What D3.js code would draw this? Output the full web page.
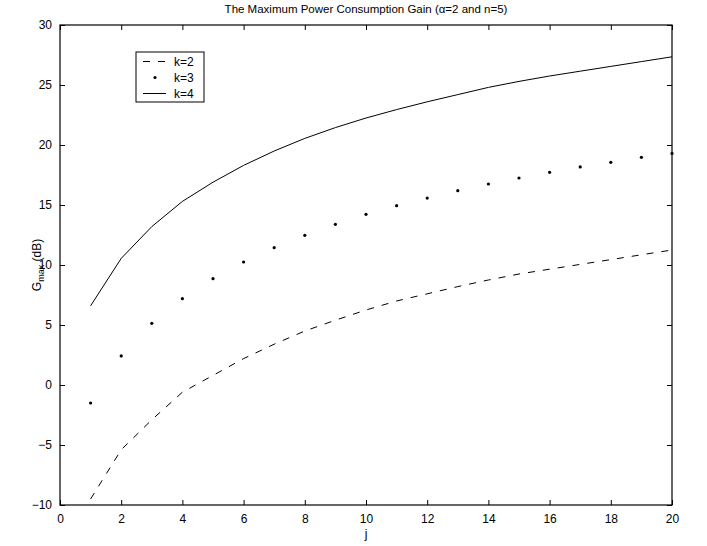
<!DOCTYPE html>
<html><head><meta charset="utf-8">
<script src="https://cdn.jsdelivr.net/npm/d3@7"></script>
<style>body{margin:0;background:#fff}svg{display:block}text{font-family:"Liberation Sans",Arial,sans-serif;fill:#000}</style>
</head><body><svg id="c" width="707" height="546"></svg>
<script>
const jValues = d3.range(1, 21);
const k2 = [-9.5,-5.4,-2.9,-0.6,0.8,2.2,3.4,4.5,5.4,6.25,7.0,7.6,8.2,8.75,9.25,9.65,10.05,10.45,10.85,11.25];
const k3 = [-1.5,2.42,5.14,7.19,8.86,10.25,11.44,12.47,13.39,14.22,14.94,15.58,16.19,16.75,17.25,17.72,18.17,18.56,18.97,19.3];
const k4 = [6.6,10.55,13.2,15.3,16.9,18.3,19.5,20.55,21.45,22.25,22.95,23.6,24.2,24.8,25.3,25.75,26.15,26.55,26.95,27.35];
const xTicks = d3.range(0, 21, 2);
const yTicks = d3.range(-10, 31, 5);
const legendLabels = ["k=2", "k=3", "k=4"];
const titleText = "The Maximum Power Consumption Gain (\u03b1=2 and n=5)";

const svg = d3.select("#c");
const L = 60, R = 672, T = 25, B = 505;
const x = d3.scaleLinear().domain([0, 20]).range([L, R]);
const y = d3.scaleLinear().domain([-10, 30]).range([B, T]);

const tl = 5;
svg.append("g").attr("transform", `translate(0,${B})`)
  .call(d3.axisBottom(x).tickValues(xTicks).tickSizeInner(-tl).tickSizeOuter(0).tickPadding(9).tickFormat(d3.format("d")));
svg.append("g").attr("transform", `translate(0,${T})`)
  .call(d3.axisTop(x).tickValues(xTicks).tickSizeInner(-tl).tickSizeOuter(0).tickFormat(""));
svg.append("g").attr("transform", `translate(${L},0)`)
  .call(d3.axisLeft(y).tickValues(yTicks).tickSizeInner(-tl).tickSizeOuter(0).tickPadding(8).tickFormat(d => d < 0 ? "\u2212" + Math.abs(d) : d));
svg.append("g").attr("transform", `translate(${R},0)`)
  .call(d3.axisRight(y).tickValues(yTicks).tickSizeInner(-tl).tickSizeOuter(0).tickFormat(""));
svg.selectAll(".domain").remove();
svg.selectAll(".tick line").attr("stroke", "#000").attr("stroke-width", 1);
svg.selectAll(".tick text").attr("font-size", 12).attr("font-family", "Liberation Sans, Arial, sans-serif");
svg.append("rect").attr("x", L).attr("y", T).attr("width", R - L).attr("height", B - T)
  .attr("fill", "none").attr("stroke", "#000").attr("stroke-width", 1.2);

const line = d3.line().x((d, i) => x(jValues[i])).y(d => y(d));
svg.append("path").datum(k2).attr("d", line).attr("fill", "none").attr("stroke", "#000")
  .attr("stroke-width", 1).attr("stroke-dasharray", "7,8");
svg.append("path").datum(k4).attr("d", line).attr("fill", "none").attr("stroke", "#000").attr("stroke-width", 1);
svg.append("g").selectAll("circle").data(k3).join("circle")
  .attr("cx", (d, i) => x(jValues[i])).attr("cy", d => y(d)).attr("r", 1.6).attr("fill", "#000");

svg.append("text").attr("x", (L + R) / 2).attr("y", 13).attr("text-anchor", "middle").attr("font-size", 11.5).text(titleText);
svg.append("text").attr("x", (L + R) / 2).attr("y", 538).attr("text-anchor", "middle").attr("font-size", 12).text("j");
const yl = svg.append("text").attr("transform", `translate(41,${(T + B) / 2}) rotate(-90)`)
  .attr("text-anchor", "middle").attr("font-size", 12);
yl.append("tspan").text("G");
yl.append("tspan").attr("font-size", 9).attr("dy", 3).text("max");
yl.append("tspan").attr("dy", -3).text("\u00a0(dB)");

const lg = svg.append("g");
lg.append("rect").attr("x", 136).attr("y", 52).attr("width", 68).attr("height", 50)
  .attr("fill", "#fff").attr("stroke", "#000").attr("stroke-width", 1);
const rowsY = [61.5, 77.5, 93.5];
lg.append("line").attr("x1", 143).attr("x2", 166).attr("y1", rowsY[0]).attr("y2", rowsY[0])
  .attr("stroke", "#000").attr("stroke-dasharray", "7,8");
lg.append("circle").attr("cx", 155).attr("cy", rowsY[1]).attr("r", 1.6).attr("fill", "#000");
lg.append("line").attr("x1", 143).attr("x2", 166).attr("y1", rowsY[2]).attr("y2", rowsY[2]).attr("stroke", "#000");
lg.selectAll("text.lt").data(legendLabels).join("text").attr("class", "lt")
  .attr("x", 174).attr("y", (d, i) => rowsY[i] + 4.5).attr("font-size", 12).text(d => d);
</script></body></html>
